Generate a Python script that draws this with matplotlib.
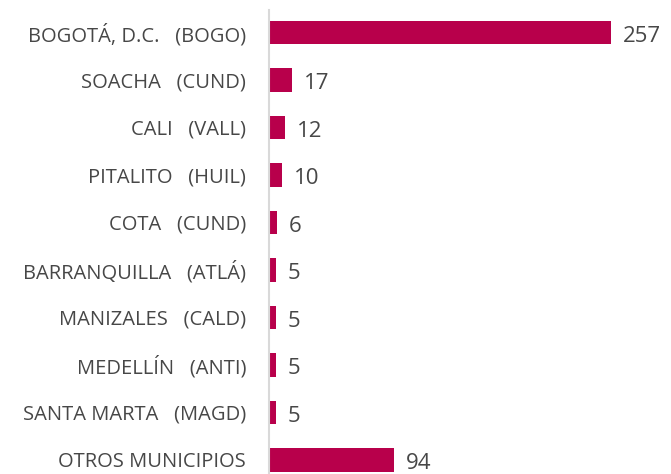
import numpy as np
import matplotlib
matplotlib.use("Agg")
import matplotlib.pyplot as plt

plt.rcParams['font.family'] = ['Open Sans', 'DejaVu Sans']

municipios = ["BOGOTÁ, D.C.   (BOGO)", "SOACHA   (CUND)", "CALI   (VALL)", "PITALITO   (HUIL)",
              "COTA   (CUND)", "BARRANQUILLA   (ATLÁ)", "MANIZALES   (CALD)", "MEDELLÍN   (ANTI)",
              "SANTA MARTA   (MAGD)", "OTROS MUNICIPIOS"]
valores = [257, 17, 12, 10, 6, 5, 5, 5, 5, 94]

bar_color = '#B8004B'
text_color = '#474747'

fig = plt.figure(figsize=(6.71, 4.74), dpi=100)
ax = fig.add_axes([0.401, 0.0, 0.599, 1.0])

y = np.arange(len(valores))
ax.barh(y, valores, height=0.49, color=bar_color)

ax.set_xlim(0, 302.2)
ax.set_ylim(9.295, -0.684)

for yi, v in zip(y, valores):
    ax.text(v + 9.0, yi + 0.08, str(v), va='center', ha='left', fontsize=16, color=text_color)

ax.set_yticks(y)
ax.set_yticklabels(municipios, fontsize=14.5, color=text_color)
ax.tick_params(axis='y', length=0, pad=16.5)
ax.set_xticks([])

for s in ['top', 'right', 'bottom']:
    ax.spines[s].set_visible(False)
ax.spines['left'].set_color('#D9D9D9')
ax.spines['left'].set_linewidth(1.5)
ax.spines['left'].set_bounds(-0.47, 9.295)

fig.savefig('out.png', dpi=100)
